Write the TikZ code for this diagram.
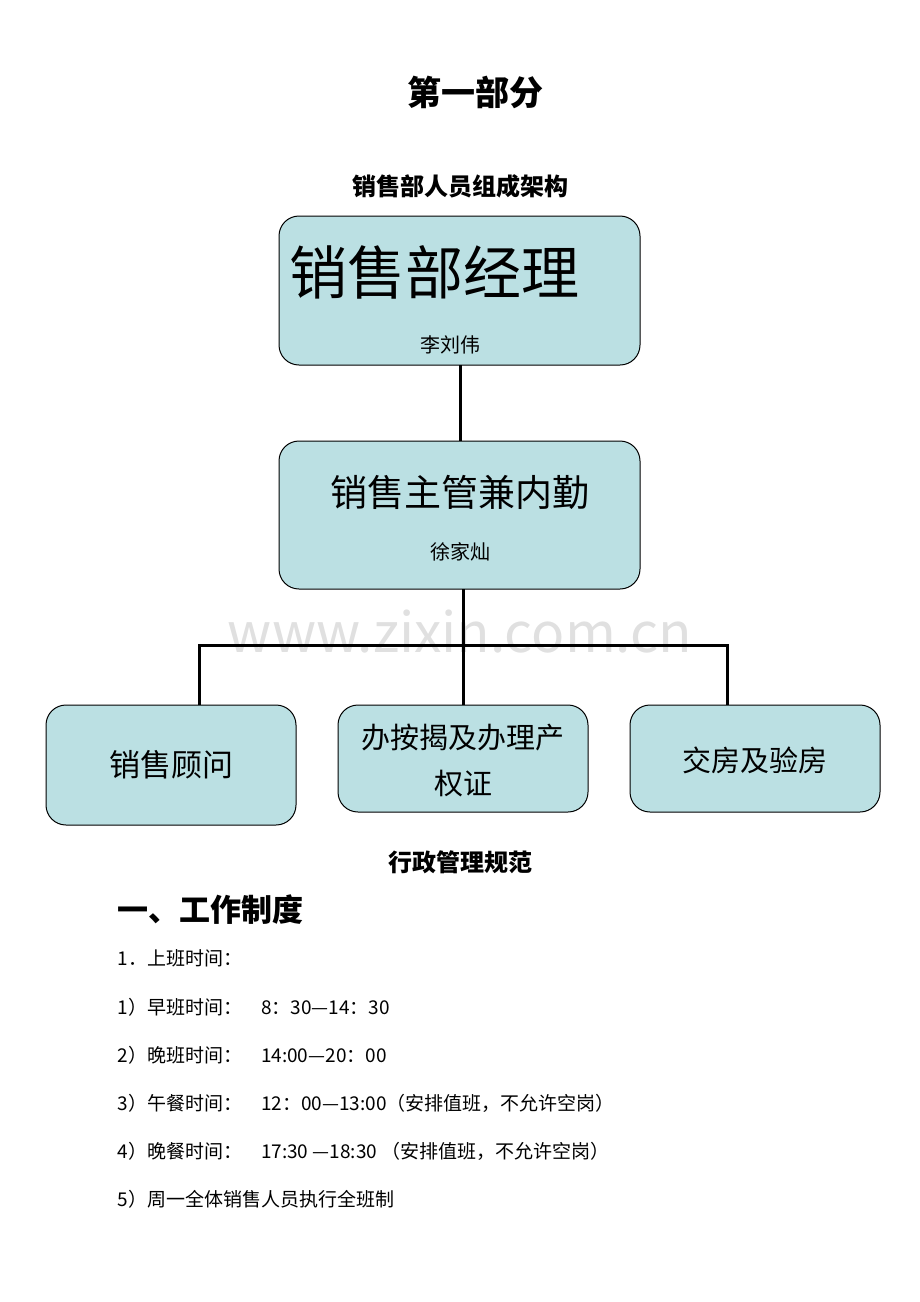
\documentclass[tikz,border=0pt]{standalone}
\usepackage{fontspec}
\setmainfont{Noto Sans CJK SC}
\definecolor{boxFill}{HTML}{BBE0E3}
\begin{document}
\begin{tikzpicture}
[x=1pt,y=-1pt,
  boxDecorate/.style={draw,fill=boxFill,rounded corners=20pt,line width=1pt},
  lineDecorate/.style={line width=3pt},
  textDecorate/.style={anchor=west,font=\fontsize{19}{19}\selectfont}]
\useasboundingbox (0,0) rectangle (920,1302);
%% titles
\node (title) at (475,92) {\fontsize{34}{34}\selectfont\bfseries 第一部分};
\node (chart) at (460,186) {\fontsize{24}{24}\selectfont\bfseries 销售部人员组成架构};
\node[text=black!12] (mark) at (460,632) {\fontsize{55}{55}\selectfont www.zixin.com.cn};
%% boxes
\draw[boxDecorate] (279,216) rectangle (640,365);
\draw[boxDecorate] (279,441) rectangle (640,589);
\draw[boxDecorate] (46,705) rectangle (296,825);
\draw[boxDecorate] (338,705) rectangle (588,812);
\draw[boxDecorate] (630,705) rectangle (880,812);
\node[anchor=west] (mgr) at (286,272) {\fontsize{58}{58}\selectfont 销售部经理};
\node (mgrName) at (450,345) {\fontsize{20}{20}\selectfont 李刘伟};
\node (sup) at (460,492) {\fontsize{37}{37}\selectfont 销售主管兼内勤};
\node (supName) at (460,552) {\fontsize{20}{20}\selectfont 徐家灿};
\node (sales) at (171,765) {\fontsize{31}{31}\selectfont 销售顾问};
\node[align=center,font=\fontsize{29}{46}\selectfont] (loan) at (463,760) {办按揭及办理产\\权证};
\node (house) at (755,760) {\fontsize{29}{29}\selectfont 交房及验房};
%% edges
\coordinate (top) at (460,365);
\coordinate (supTop) at (460,441);
\coordinate (supBot) at (463,589);
\coordinate (busL) at (199,645);
\coordinate (busR) at (727,645);
\draw[lineDecorate] (top) -- (supTop);
\draw[lineDecorate] (supBot) -- (463,705);
\draw[lineDecorate] (199,705) -- (busL) -- (busR) -- (727,705);
%% rules
\node (rules) at (460,862) {\fontsize{24}{24}\selectfont\bfseries 行政管理规范};
\node[anchor=west] (sec) at (114,910) {\fontsize{31}{31}\selectfont\bfseries 一、工作制度};
\foreach \name/\y/\txt in {
  r0/958/{1．上班时间：},
  r1/1007/{1）早班时间：\quad 8：30—14：30},
  r2/1055/{2）晚班时间：\quad 14:00—20：00},
  r3/1103/{3）午餐时间：\quad 12：00—13:00（安排值班，不允许空岗）},
  r4/1151/{4）晚餐时间：\quad 17:30 —18:30 （安排值班，不允许空岗）},
  r5/1199/{5）周一全体销售人员执行全班制}}
{
  \node[textDecorate] (\name) at (114,\y) {\txt};
}
\end{tikzpicture}
\end{document}
